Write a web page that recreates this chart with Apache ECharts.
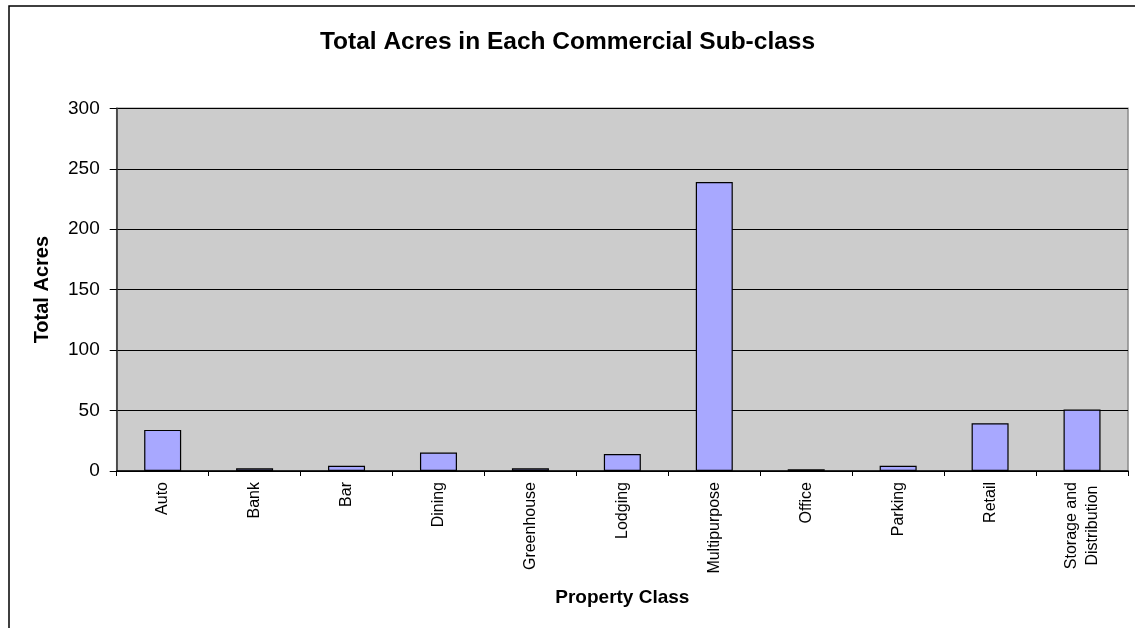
<!DOCTYPE html>
<html>
<head>
<meta charset="utf-8">
<script src="https://cdn.jsdelivr.net/npm/echarts@6/dist/echarts.min.js"></script>
<style>
html,body{margin:0;padding:0;background:#fff;}
#chart{width:1135px;height:628px;}
</style>
</head>
<body>
<div id="chart"></div>
<script>
const categories = ['Auto','Bank','Bar','Dining','Greenhouse','Lodging','Multipurpose','Office','Parking','Retail','Storage and\nDistribution'];
const acres = [34, 2.2, 4.4, 15.2, 2.2, 14.1, 239, 1.4, 4.4, 39.5, 50.8];
const yTicks = [0, 50, 100, 150, 200, 250, 300];

const FONT = "'Liberation Sans', Arial, sans-serif";
const chart = echarts.init(document.getElementById('chart'), null, {renderer: 'canvas'});
chart.setOption({
  animation: false,
  backgroundColor: '#ffffff',
  title: {
    text: 'Total Acres in Each Commercial Sub-class',
    left: 'center',
    top: 30,
    padding: 0,
    textStyle: {fontFamily: FONT, fontSize: 24.5, fontWeight: 'bold', color: '#000'}
  },
  graphic: [{
    type: 'rect',
    shape: {x: 9, y: 6, width: 1140, height: 640},
    style: {fill: 'none', stroke: '#000', lineWidth: 1.5},
    silent: true,
    z: -1
  }],
  grid: {
    left: 116.7, right: 7, top: 108.3, bottom: 157,
    show: true, backgroundColor: '#cccccc', borderColor: '#8a8a8a', borderWidth: 1.5
  },
  xAxis: {
    type: 'category',
    data: categories,
    boundaryGap: true,
    name: 'Property Class',
    nameLocation: 'middle',
    nameGap: 117,
    nameTextStyle: {fontFamily: FONT, fontSize: 19, fontWeight: 'bold', color: '#000'},
    axisLine: {lineStyle: {color: '#000', width: 1.5}},
    axisTick: {show: true, length: 5, alignWithLabel: false, lineStyle: {color: '#000'}},
    axisLabel: {
      rotate: 90, margin: 11, interval: 0, fontFamily: FONT, fontSize: 16, color: '#000', lineHeight: 21,
      formatter: function (v) {
        return v.indexOf('\n') >= 0 ? v.split('\n').map(function (s) { return '{c|' + s + '}'; }).join('\n') : v;
      },
      rich: {c: {align: 'center', fontFamily: FONT, fontSize: 16, color: '#000', lineHeight: 21}}
    }
  },
  yAxis: {
    type: 'value',
    min: yTicks[0], max: yTicks[yTicks.length - 1], interval: 50,
    name: 'Total Acres',
    nameLocation: 'middle',
    nameGap: 64,
    nameRotate: 90,
    nameTextStyle: {fontFamily: FONT, fontSize: 20, fontWeight: 'bold', color: '#000'},
    axisLine: {show: true, lineStyle: {color: '#333', width: 1.5}},
    axisTick: {show: true, length: 7, lineStyle: {color: '#000'}},
    axisLabel: {margin: 17, fontFamily: FONT, fontSize: 19, color: '#000'},
    splitLine: {show: true, lineStyle: {color: '#000', width: 1.2}}
  },
  series: [{
    type: 'bar',
    data: acres,
    barWidth: 37,
    itemStyle: {color: '#a8a8ff', borderColor: '#000', borderWidth: 1.2}
  }]
});
</script>
</body>
</html>
